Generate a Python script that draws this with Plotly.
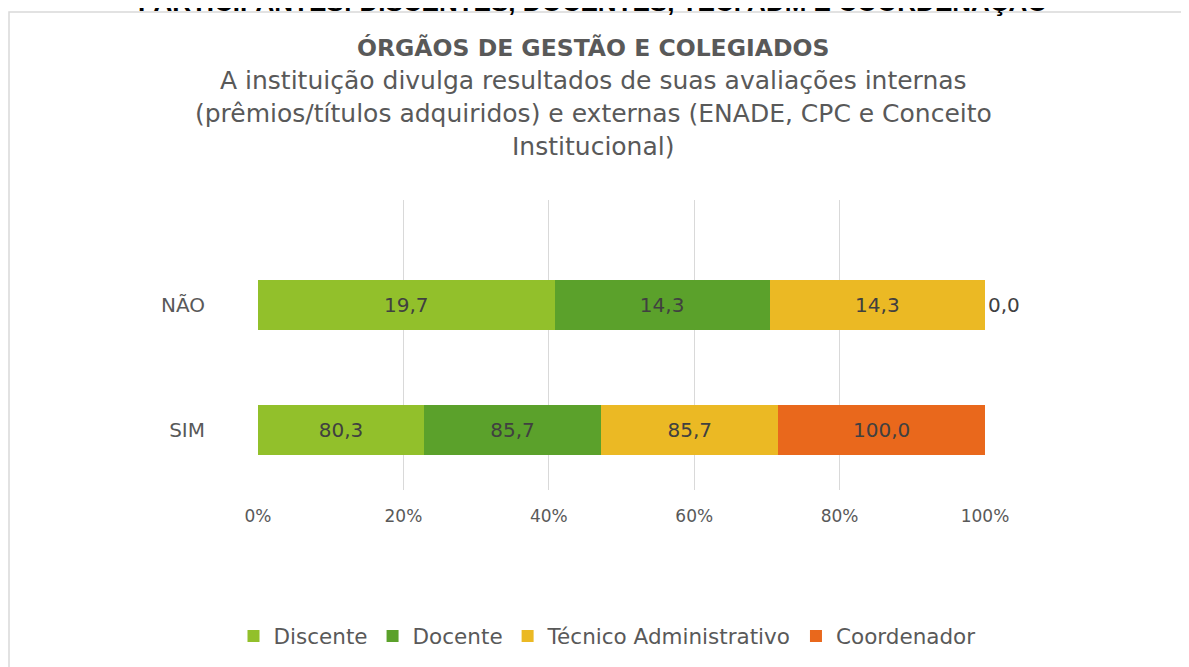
import plotly.graph_objects as go

categories = ["SIM", "NÃO"]
series = ["Discente", "Docente", "Técnico Administrativo", "Coordenador"]
discente = [80.3, 19.7]
docente = [85.7, 14.3]
tecnico = [85.7, 14.3]
coordenador = [100.0, 0.0]
colors = ["#92C02B", "#5BA12B", "#EBB924", "#E9681C"]
tick_vals = [0, 20, 40, 60, 80, 100]
tick_labels = ["0%", "20%", "40%", "60%", "80%", "100%"]

values = [discente, docente, tecnico, coordenador]

# page body has an 8px margin: figure drawn at (8, 8) in the window
OFF = 8
W, H = 1189 - OFF, 667 - OFF


def px_x(x):
    return (x - OFF) / W


def px_y(y):
    return 1 - (y - OFF) / H


fig = go.Figure()
for name, vals, col in zip(series, values, colors):
    pos = ["outside" if v == 0 else "inside" for v in vals] if name == "Coordenador" else "inside"
    fig.add_trace(go.Bar(
        y=categories, x=vals, name=name, orientation="h",
        marker=dict(color=col, line=dict(width=0)),
        text=vals, texttemplate="%{text:.1f}", textposition=pos,
        insidetextanchor="middle",
        textfont=dict(size=20, color="#404040", family="DejaVu Sans"),
        outsidetextfont=dict(size=20, color="#404040", family="DejaVu Sans"),
        cliponaxis=False,
    ))

fig.update_layout(
    width=W, height=H,
    barmode="stack", barnorm="percent", bargap=0.6,
    separators=",.",
    margin=dict(l=0, r=0, t=0, b=0, autoexpand=False),
    paper_bgcolor="white", plot_bgcolor="white",
    font=dict(family="DejaVu Sans", color="#595959"),
    xaxis=dict(domain=[px_x(258), px_x(985)], range=[0, 100], tickvals=tick_vals,
               ticktext=tick_labels, showgrid=True, gridcolor="#d9d9d9", gridwidth=1,
               zeroline=False, showline=False, tickfont=dict(size=17, color="#595959"),
               ticks="", ticklabelstandoff=14, automargin=False),
    yaxis=dict(domain=[px_y(490), px_y(200)], range=[-0.48, 1.84], showgrid=False,
               zeroline=False, tickfont=dict(size=20, color="#595959"), ticks="",
               ticklabelstandoff=52, automargin=False),
    legend=dict(orientation="h", x=px_x(607), xanchor="center", y=px_y(636), yanchor="middle",
                font=dict(size=21.5, color="#595959"), traceorder="normal",
                itemwidth=30, bgcolor="rgba(0,0,0,0)"),
    showlegend=True,
)

fig.add_shape(type="rect", xref="paper", yref="paper",
              x0=px_x(9), x1=1.02, y0=-0.02, y1=px_y(12),
              line=dict(color="#d9d9d9", width=1.5), fillcolor="rgba(0,0,0,0)", layer="below")

fig.add_annotation(text="<b>PARTICIPANTES: DISCENTES, DOCENTES, TÉC. ADM E COORDENAÇÃO</b>",
                   xref="paper", yref="paper", x=px_x(593), y=px_y(2), xanchor="center",
                   yanchor="middle", showarrow=False,
                   font=dict(family="Liberation Sans Narrow, Liberation Sans", size=26, color="#000000"))
fig.add_annotation(text="<b>ÓRGÃOS DE GESTÃO E COLEGIADOS</b>",
                   xref="paper", yref="paper", x=px_x(593), y=px_y(48), xanchor="center",
                   yanchor="middle", showarrow=False, font=dict(size=23.5, color="#595959"))
subtitle = ["A instituição divulga resultados de suas avaliações internas",
            "(prêmios/títulos adquiridos) e externas (ENADE, CPC e Conceito",
            "Institucional)"]
for i, line in enumerate(subtitle):
    fig.add_annotation(text=line, xref="paper", yref="paper", x=px_x(593), y=px_y(80 + 33 * i),
                       xanchor="center", yanchor="middle", showarrow=False,
                       font=dict(size=25, color="#595959"))

fig.write_html("out.html")
